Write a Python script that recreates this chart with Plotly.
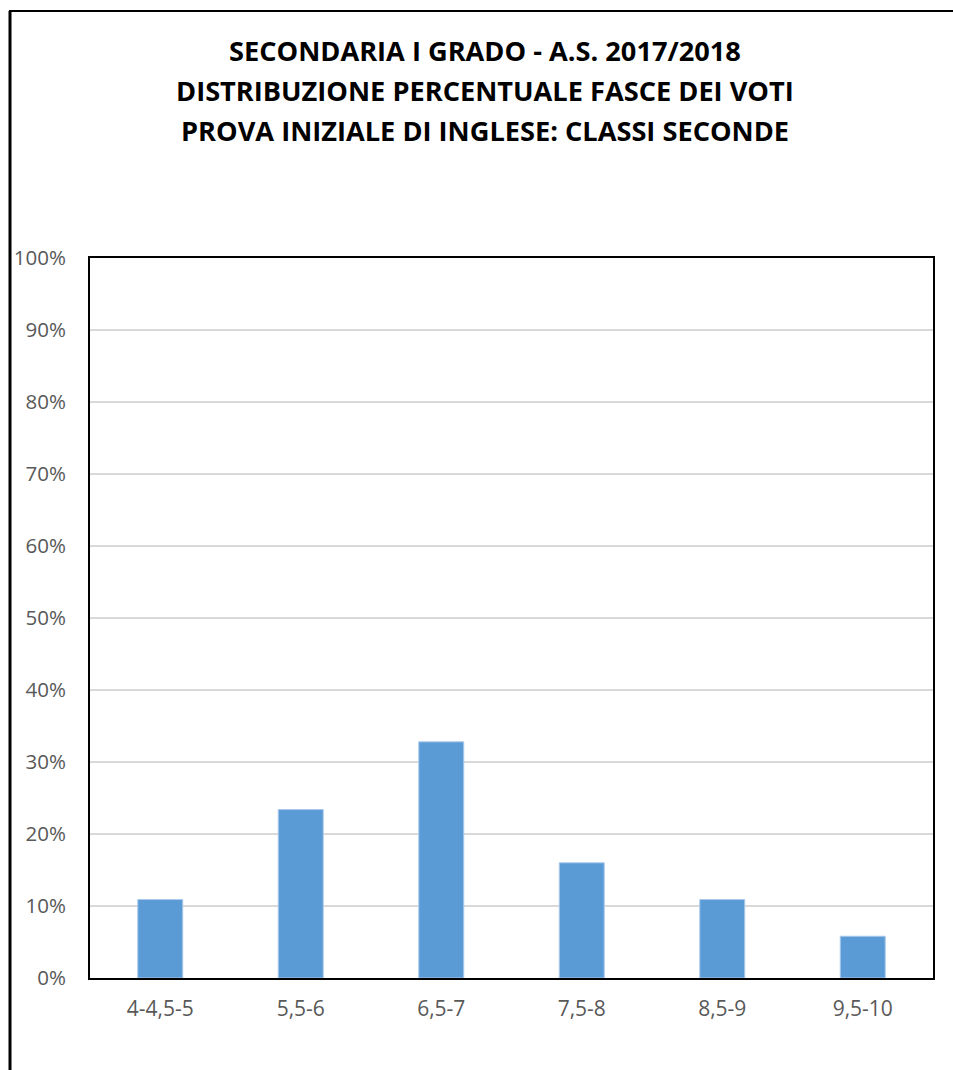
import plotly.graph_objects as go

categories = ["4-4,5-5", "5,5-6", "6,5-7", "7,5-8", "8,5-9", "9,5-10"]
percentages = [10.9, 23.4, 32.8, 16.0, 10.9, 5.8]
title_lines = [
    "SECONDARIA I GRADO - A.S. 2017/2018",
    "DISTRIBUZIONE PERCENTUALE FASCE DEI VOTI",
    "PROVA INIZIALE DI INGLESE: CLASSI SECONDE",
]
y_ticks = list(range(0, 101, 10))

W, H = 953, 1070
L, R, T, B = 90, 20, 258, 92
FONT = "Open Sans, sans-serif"

fig = go.Figure()
fig.add_trace(go.Bar(x=categories, y=percentages,
                     marker=dict(color="#5b9bd5", line=dict(color="#a9c8ec", width=1)),
                     hoverinfo="skip"))

# title lines, placed one by one (Excel-like spacing)
title_y = [50, 91, 131]
for txt, yy in zip(title_lines, title_y):
    fig.add_annotation(text=f"<b>{txt}</b>", xref="paper", yref="paper",
                       x=(485 - L) / (W - L - R), y=1 + (T - yy) / (H - T - B),
                       xanchor="center", yanchor="middle", showarrow=False,
                       font=dict(family=FONT, size=27.2, color="#000000"))

# outer chart frame: only left and top edges visible
fig.add_shape(type="line", xref="paper", yref="paper",
              x0=(10 - L) / (W - L - R), x1=(10 - L) / (W - L - R),
              y0=1 + (T - 11) / (H - T - B), y1=1 + (T - H - 5) / (H - T - B),
              line=dict(color="black", width=3))
fig.add_shape(type="line", xref="paper", yref="paper",
              x0=(9 - L) / (W - L - R), x1=(W + 5 - L) / (W - L - R),
              y0=1 + (T - 11) / (H - T - B), y1=1 + (T - 11) / (H - T - B),
              line=dict(color="black", width=2))

fig.update_layout(
    width=W, height=H, margin=dict(l=L, r=R, t=T, b=B),
    paper_bgcolor="white", plot_bgcolor="white", showlegend=False,
    bargap=0.68,
    xaxis=dict(showline=True, linecolor="black", linewidth=2, mirror=True,
               tickfont=dict(family=FONT, size=21, color="#595959"),
               ticklabelstandoff=11, showgrid=False),
    yaxis=dict(range=[0, 100], tickvals=y_ticks, ticktext=[f"{v}%" for v in y_ticks],
               showline=True, linecolor="black", linewidth=2, mirror=True,
               gridcolor="#d9d9d9", gridwidth=2, zeroline=False,
               tickfont=dict(family=FONT, size=20.5, color="#595959"),
               ticklabelstandoff=18),
)

fig.write_html("out.html", config={"displayModeBar": False},
               post_script="document.body.style.margin='0';")
